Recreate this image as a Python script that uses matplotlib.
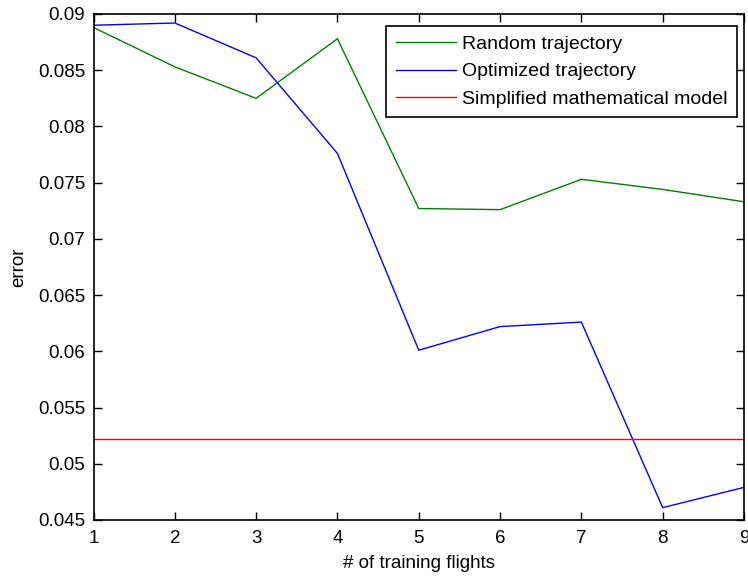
import matplotlib
matplotlib.use("Agg")
import matplotlib.pyplot as plt

flights = [1, 2, 3, 4, 5, 6, 7, 8, 9]
random_traj = [0.0888, 0.0853, 0.0825, 0.0878, 0.0727, 0.0726, 0.0753, 0.0744, 0.0733]
optimized_traj = [0.0890, 0.0892, 0.0861, 0.0776, 0.0601, 0.0622, 0.0626, 0.0461, 0.0479]
simplified_model = 0.0522
yticks = [0.045, 0.05, 0.055, 0.06, 0.065, 0.07, 0.075, 0.08, 0.085, 0.09]
ytick_labels = ["0.045", "0.05", "0.055", "0.06", "0.065", "0.07", "0.075", "0.08", "0.085", "0.09"]

plt.rcParams['font.family'] = ['Liberation Sans', 'DejaVu Sans']

fig = plt.figure(figsize=(7.48, 5.8), dpi=100)
ax = fig.add_axes([93.5/748, 1 - 520/580, (744 - 93.5)/748, (520 - 14)/580])

ax.plot(flights, random_traj, color=(0.0, 0.5, 0.0), lw=1.0, label="Random trajectory")
ax.plot(flights, optimized_traj, color=(0.0, 0.0, 1.0), lw=1.0, label="Optimized trajectory")
ax.axhline(simplified_model, color=(1.0, 0.0, 0.0), lw=1.0, label="Simplified mathematical model")

ax.set_xlim(1, 9)
ax.set_ylim(0.045, 0.09)
ax.set_xticks(flights)
ax.set_xticklabels([str(f) for f in flights])
ax.set_yticks(yticks)
ax.set_yticklabels(ytick_labels)
ax.tick_params(direction='in', length=6, width=1, top=True, right=True, labelsize=13.5, colors='black')
ax.tick_params(axis='y', pad=6)
ax.tick_params(axis='x', pad=7)
for s in ax.spines.values():
    s.set_linewidth(1.2)
ax.set_xlabel("# of training flights", fontsize=13.5, labelpad=6)
ax.set_ylabel("error", fontsize=13.5, labelpad=8)

leg = ax.legend(loc='upper right', fontsize=14, frameon=True, fancybox=False,
                edgecolor='black', framealpha=1, borderpad=0.5, labelspacing=0.5,
                handlelength=3.1, handletextpad=0.3, borderaxespad=0.0)
leg.get_frame().set_linewidth(1.2)
leg.set_bbox_to_anchor(((737 - 93.5) / (744 - 93.5), (520 - 25.7) / (520 - 14)), transform=ax.transAxes)

fig.savefig("out.png", dpi=100)
